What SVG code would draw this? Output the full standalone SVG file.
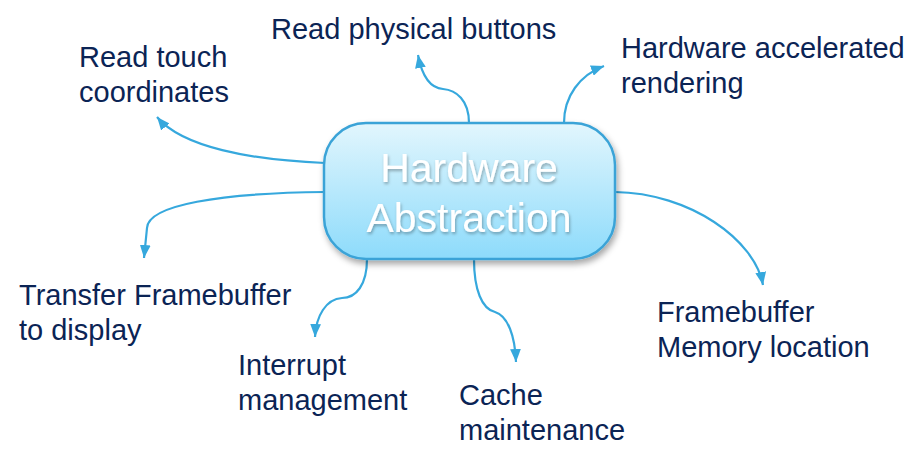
<svg xmlns="http://www.w3.org/2000/svg" width="923" height="465" viewBox="0 0 923 465">
<style>
.lbl{font-family:"Liberation Sans",Arial,sans-serif;font-size:29px;fill:#0B2455}
.hub{font-family:"Liberation Sans",Arial,sans-serif;font-size:41px;fill:#ffffff;text-anchor:middle}
.con{fill:none;stroke:#36A8DD;stroke-width:2.2;marker-end:url(#arr)}
</style>
<defs>
<linearGradient id="g" x1="0" y1="0" x2="0" y2="1">
<stop offset="0" stop-color="#E2F6FD"/>
<stop offset="1" stop-color="#8DDBFB"/>
</linearGradient>
<filter id="sh" x="-10%" y="-10%" width="125%" height="130%">
<feDropShadow dx="2" dy="4" stdDeviation="3" flood-color="#000" flood-opacity="0.35"/>
</filter>
<filter id="tsh" x="-10%" y="-20%" width="120%" height="150%">
<feDropShadow dx="1" dy="2" stdDeviation="1.5" flood-color="#000" flood-opacity="0.3"/>
</filter>
<marker id="arr" viewBox="0 0 12 10" refX="12" refY="5" markerWidth="13" markerHeight="11" markerUnits="userSpaceOnUse" orient="auto">
<path d="M0,0 L12,5 L0,10 z" fill="#36A8DD"/>
</marker>
</defs>
<rect width="923" height="465" fill="#ffffff"/>
<g id="connectors">
<path class="con" d="M325,163 C250,160 182,147 157,117"/>
<path class="con" d="M325,192 C220,193 148,205 147,228 L144,258"/>
<path class="con" d="M469,123 C469,100 456,90 443,89 C430,88 422,76 418,55"/>
<path class="con" d="M564,123 C564,96 580,75 604,66"/>
<path class="con" d="M615,192 C690,193 755,240 763,285"/>
<path class="con" d="M367,259 C367,285 356,298 342,298 C326,299 316,316 315,337"/>
<path class="con" d="M474,259 C474,290 482,309 495,312 C508,316 515,336 516,362"/>
</g>
<g id="hub">
<rect x="324" y="123" width="291" height="136" rx="42" ry="42" fill="url(#g)" stroke="#3AA3D7" stroke-width="2.5" filter="url(#sh)"/>
<g filter="url(#tsh)">
<text class="hub" x="469" y="182">Hardware</text>
<text class="hub" x="469" y="232">Abstraction</text>
</g>
</g>
<g id="touch"><text class="lbl" x="79" y="67">Read touch</text><text class="lbl" x="79" y="102">coordinates</text></g>
<g id="buttons"><text class="lbl" x="271" y="39">Read physical buttons</text></g>
<g id="accel"><text class="lbl" x="621" y="58">Hardware accelerated</text><text class="lbl" x="621" y="93">rendering</text></g>
<g id="transfer"><text class="lbl" x="19" y="305">Transfer Framebuffer</text><text class="lbl" x="19" y="340">to display</text></g>
<g id="fbmem"><text class="lbl" x="657" y="322">Framebuffer</text><text class="lbl" x="657" y="357">Memory location</text></g>
<g id="interrupt"><text class="lbl" x="238" y="375">Interrupt</text><text class="lbl" x="238" y="410">management</text></g>
<g id="cache"><text class="lbl" x="459" y="405">Cache</text><text class="lbl" x="459" y="440">maintenance</text></g>
</svg>
